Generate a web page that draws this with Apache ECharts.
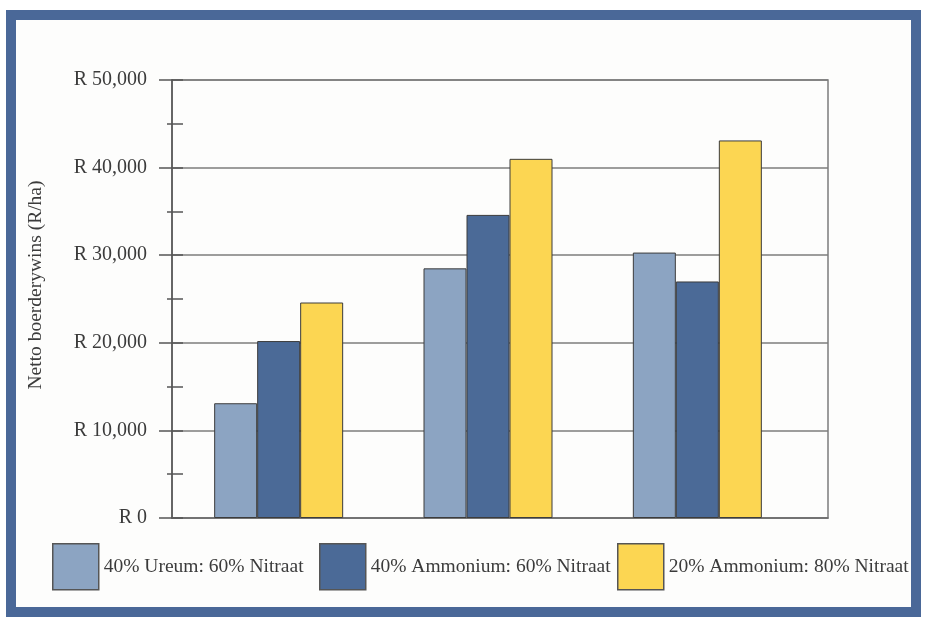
<!DOCTYPE html>
<html>
<head>
<meta charset="utf-8">
<script src="https://cdn.jsdelivr.net/npm/echarts@6/dist/echarts.min.js"></script>
<style>
  html, body { margin: 0; padding: 0; background: #ffffff; }
  .frame {
    position: absolute;
    left: 6px;
    top: 10px;
    width: 915px;
    height: 607px;
    box-sizing: border-box;
    border: 10px solid #4a6898;
    background: #fdfdfc;
  }
  #chart {
    position: absolute;
    left: 0;
    top: 0;
    width: 933px;
    height: 626px;
  }
</style>
</head>
<body>
<div class="frame"></div>
<div id="chart"></div>
<script>
// data
const categories = ['1', '2', '3']
const seriesNames = ['40% Ureum: 60% Nitraat', '40% Ammonium: 60% Nitraat', '20% Ammonium: 80% Nitraat']
const ureum60 = [13100, 28500, 30300]
const ammonium60 = [20200, 34600, 27000]
const ammonium80 = [24600, 41000, 43100]
const yTicks = [0, 10000, 20000, 30000, 40000, 50000]

const serif = 'Liberation Serif, Times New Roman, serif'
const textColor = '#3b3b3b'
const colors = ['#8ca4c2', '#4b6a97', '#fcd652']

const myChart = echarts.init(document.getElementById('chart'))

const bar = (name, data, color) => ({
  name: name,
  type: 'bar',
  xAxisIndex: 1,
  yAxisIndex: 2,
  barWidth: 43,
  barGap: '0%',
  itemStyle: {
    color: color,
    borderColor: '#3c3c3c',
    borderWidth: 1,
  },
  data: data,
})

const legendAt = (idx, left) => ({
  data: [seriesNames[idx]],
  left: left,
  top: 538,
  itemWidth: 46,
  itemHeight: 46,
  icon: 'rect',
  itemStyle: {
    borderColor: '#555555',
    borderWidth: 1.5,
  },
  textStyle: {
    fontFamily: serif,
    fontSize: 19.5,
    color: textColor,
  },
})

const option = {
  animation: false,
  grid: [
    // frame, gridlines and labels
    {
      left: 172,
      right: 105,
      top: 80,
      bottom: 108,
      show: true,
      borderColor: '#7c7c7c',
      borderWidth: 1.5,
      backgroundColor: 'transparent',
    },
    // bars
    {
      left: 174,
      right: 131,
      top: 80,
      bottom: 108,
    },
  ],
  legend: [legendAt(0, 47), legendAt(1, 314), legendAt(2, 612)],
  xAxis: [
    {
      type: 'category',
      gridIndex: 0,
      data: categories,
      axisLine: { lineStyle: { color: '#6e6e6e', width: 1.5 } },
      axisTick: { show: false },
      axisLabel: { show: false },
    },
    {
      type: 'category',
      gridIndex: 1,
      data: categories,
      axisLine: { show: false },
      axisTick: { show: false },
      axisLabel: { show: false },
    },
  ],
  yAxis: [
    {
      type: 'value',
      gridIndex: 0,
      min: yTicks[0],
      max: yTicks[yTicks.length - 1],
      interval: 10000,
      name: 'Netto boerderywins (R/ha)',
      nameLocation: 'middle',
      nameGap: 126,
      nameRotate: 90,
      nameTextStyle: {
        fontFamily: serif,
        fontSize: 19.5,
        color: textColor,
        padding: [0, 0, 0, 28],
      },
      axisLine: { show: true, lineStyle: { color: '#555555', width: 1.5 } },
      axisTick: { show: true, length: 13, lineStyle: { color: '#555555', width: 1.5 } },
      minorTick: { show: true, splitNumber: 2, length: 5, lineStyle: { color: '#555555', width: 1.5 } },
      splitLine: { show: true, lineStyle: { color: '#7c7c7c', width: 1.5 } },
      axisLabel: {
        margin: 25,
        fontFamily: serif,
        fontSize: 20,
        color: textColor,
        formatter: v => 'R ' + v.toLocaleString('en-US'),
      },
    },
    {
      // inner half of the ticks
      type: 'value',
      gridIndex: 0,
      position: 'left',
      offset: 0,
      min: yTicks[0],
      max: yTicks[yTicks.length - 1],
      interval: 5000,
      axisLine: { show: false },
      axisTick: { show: true, inside: true, length: 11, lineStyle: { color: '#555555', width: 1.5 } },
      splitLine: { show: false },
      axisLabel: { show: false },
    },
    {
      type: 'value',
      gridIndex: 1,
      min: yTicks[0],
      max: yTicks[yTicks.length - 1],
      show: false,
      splitLine: { show: false },
    },
  ],
  series: [
    bar(seriesNames[0], ureum60, colors[0]),
    bar(seriesNames[1], ammonium60, colors[1]),
    bar(seriesNames[2], ammonium80, colors[2]),
  ],
}

myChart.setOption(option)
</script>
</body>
</html>
